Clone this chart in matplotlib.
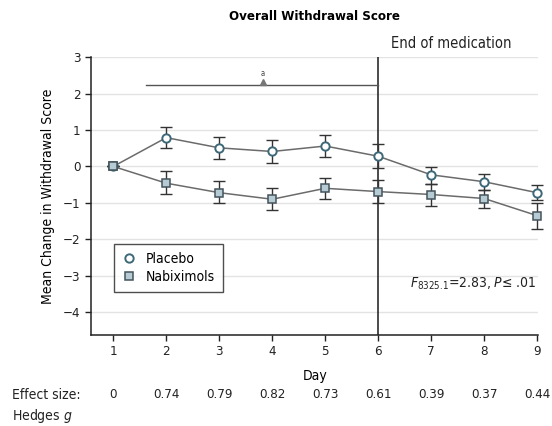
import matplotlib
matplotlib.use("Agg")
import matplotlib.pyplot as plt
import matplotlib.transforms as mtransforms
import numpy as np

plt.rcParams["font.family"] = ["DejaVu Sans"]
plt.rcParams["font.stretch"] = "condensed"

days = [1, 2, 3, 4, 5, 6, 7, 8, 9]
placebo = [0, 0.79, 0.51, 0.41, 0.56, 0.28, -0.23, -0.42, -0.72]
placebo_lo = [0, 0.50, 0.20, 0.10, 0.27, -0.05, -0.49, -0.65, -0.93]
placebo_hi = [0, 1.07, 0.80, 0.73, 0.87, 0.61, -0.02, -0.22, -0.52]
nabix = [0, -0.46, -0.72, -0.90, -0.60, -0.69, -0.77, -0.88, -1.35]
nabix_lo = [0, -0.75, -1.01, -1.20, -0.88, -1.00, -1.09, -1.15, -1.71]
nabix_hi = [0, -0.12, -0.39, -0.60, -0.33, -0.38, -0.49, -0.65, -1.00]
effect_size = ["0", "0.74", "0.79", "0.82", "0.73", "0.61", "0.39", "0.37", "0.44"]
yticks = [3, 2, 1, 0, -1, -2, -3, -4]

fig = plt.figure(figsize=(5.52, 4.26), dpi=100)
ax = fig.add_axes([0.165, 0.214, 0.81, 0.652])

for t in yticks:
    ax.axhline(t, color="#e3e3e3", lw=1.0, zorder=0)

line_col = "#6b6b6b"
err_col = "#333333"

p = np.array(placebo)
ax.errorbar(days, placebo, yerr=[p - np.array(placebo_lo), np.array(placebo_hi) - p],
            fmt="none", ecolor=err_col, elinewidth=1.0, capsize=4.5, capthick=1.0, zorder=3, clip_on=False)
n = np.array(nabix)
ax.errorbar(days, nabix, yerr=[n - np.array(nabix_lo), np.array(nabix_hi) - n],
            fmt="none", ecolor=err_col, elinewidth=1.0, capsize=4.5, capthick=1.0, zorder=3, clip_on=False)

ax.plot(days, placebo, "-", color=line_col, lw=1.1, zorder=4)
ax.plot(days, nabix, "-", color=line_col, lw=1.1, zorder=4)
ax.plot(days, placebo, "o", ms=6, mfc="white", mec="#3d6877", mew=1.4, zorder=6,
        label="Placebo", clip_on=False)
ax.plot(days, nabix, "s", ms=5.5, mfc="#b7cbd5", mec="#44545c", mew=1.1, zorder=5,
        label="Nabiximols", clip_on=False)
ax.plot(days[:1], nabix[:1], "s", ms=5.5, mfc="#b7cbd5", mec="#44545c", mew=1.1, zorder=7)

# end of medication
ax.axvline(6, color="#1a1a1a", lw=1.1, zorder=2)
ax.text(7.38, 3.36, "End of medication", ha="center", va="center", fontsize=10.5, color="#222222")

# significance bar
ax.plot([1.62, 6], [2.24, 2.24], color="#555555", lw=1.0, zorder=2)
ax.plot([3.82], [2.31], marker="^", ms=4, color="#777777", zorder=3)
ax.text(3.82, 2.56, "a", ha="center", va="center", fontsize=5.5, color="#444444")

ax.text(8.98, -3.22, r"$F_{8325.1}$=2.83, $P$≤ .01", ha="right", va="center",
        fontsize=10, color="#222222")

ax.set_xlim(0.58, 9.02)
ax.set_ylim(-4.62, 3)
ax.set_xticks(days)
ax.set_yticks(yticks)
ax.tick_params(labelsize=9.5, colors="#222222", length=4, width=1.0)
for s in ["top", "right"]:
    ax.spines[s].set_visible(False)
for s in ["left", "bottom"]:
    ax.spines[s].set_linewidth(1.1)
    ax.spines[s].set_color("#222222")

ax.set_xlabel("Day", fontsize=10, labelpad=8)
ax.set_ylabel("Mean Change in Withdrawal Score", fontsize=10, labelpad=6)
ax.set_title("Overall Withdrawal Score", fontsize=9.5, fontweight="bold", pad=27)

leg = ax.legend(loc="lower left", bbox_to_anchor=(0.035, 0.128), fontsize=10, frameon=True,
                fancybox=False, edgecolor="#222222", handlelength=1.0, handletextpad=0.7,
                borderpad=0.6, labelspacing=0.3)
leg.get_frame().set_linewidth(1.0)

trans = mtransforms.blended_transform_factory(ax.transData, fig.transFigure)
for d, es in zip(days, effect_size):
    fig.text(d, 1 - 395 / 426, es, transform=trans, ha="center", va="center", fontsize=9.5, color="#222222")
fig.text(12 / 552, 1 - 395 / 426, "Effect size:", ha="left", va="center", fontsize=10, color="#222222")
fig.text(12 / 552, 1 - 416 / 426, r"Hedges $g$", ha="left", va="center", fontsize=10, color="#222222")

fig.savefig("out.png", dpi=100)
